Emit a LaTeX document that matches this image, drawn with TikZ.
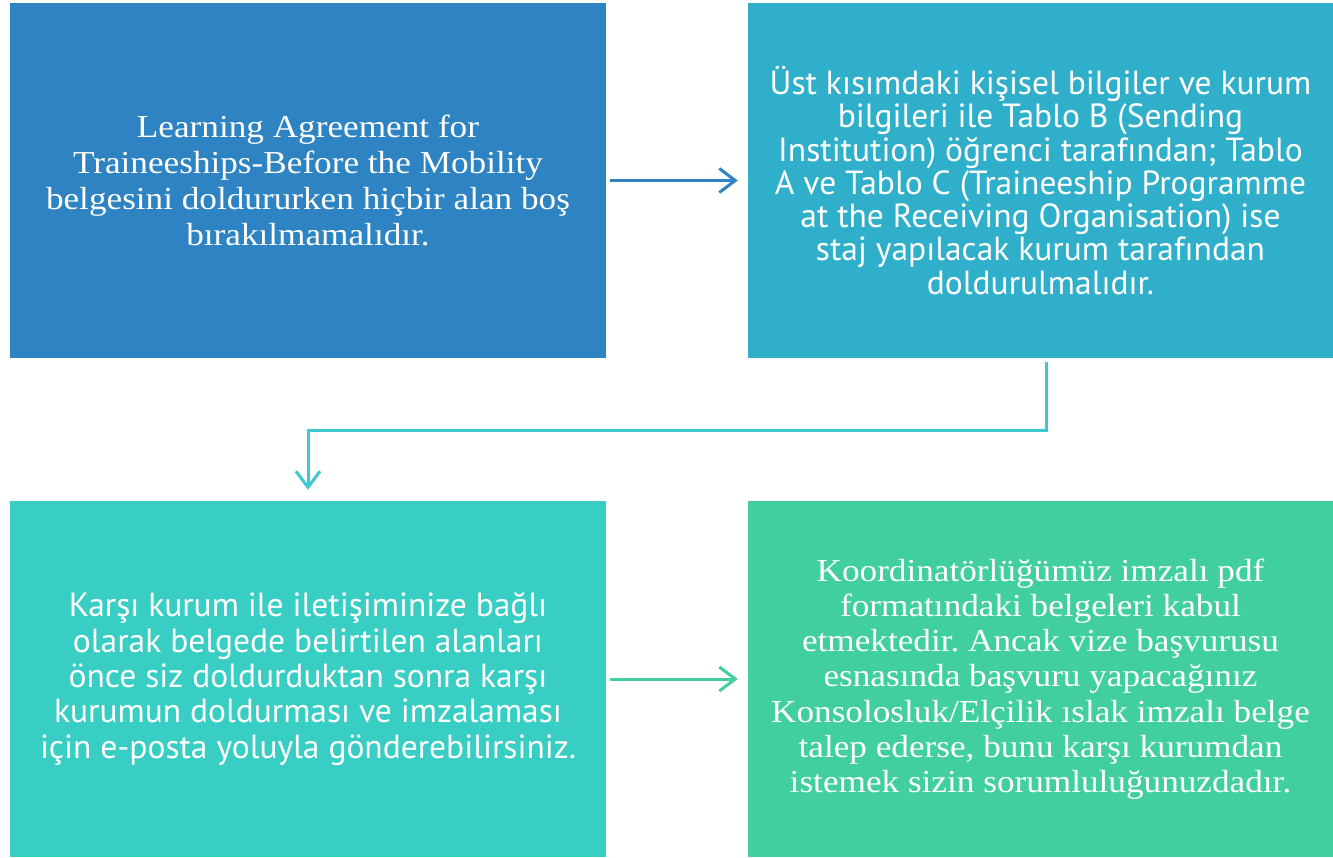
\documentclass[tikz,border=0pt]{standalone}
\usepackage{fontspec}
\setmainfont{Liberation Serif}
\newfontfamily\boxserif[FakeStretch=1.1]{Liberation Serif}
\newfontfamily\boxsans{PT Sans}
\usetikzlibrary{arrows.meta}
\definecolor{cA}{HTML}{2E83C3}
\definecolor{cB}{HTML}{30AFCB}
\definecolor{cC}{HTML}{38CEC4}
\definecolor{cD}{HTML}{42CFA0}
\definecolor{cL}{HTML}{3CCAD0}
\frenchspacing
\tikzset{
  panel/.style={rectangle, inner sep=0pt, text=white, align=center},
  serifbox/.style={panel, font={\boxserif\fontsize{32}{36}\selectfont}},
  sansbox/.style={panel, font={\boxsans\fontsize{33.5}{33.3}\selectfont}},
  sansboxb/.style={panel, font={\boxsans\fontsize{33.5}{35.3}\selectfont}},
  serifboxb/.style={panel, font={\boxserif\fontsize{32}{35.2}\selectfont}},
  conn/.style={line width=3pt, -{Straight Barb[length=16pt,width=24pt,line width=3pt]}},
}
\begin{document}
\begin{tikzpicture}[x=1pt,y=-1pt]
\useasboundingbox (0,0) rectangle (1333,857);
\fill[white] (0,0) rectangle (1333,857);
\node[serifbox, fill=cA, minimum width=596pt, minimum height=355pt] (b1) at (308,180.5)
  {Learning Agreement for\\Traineeships-Before the Mobility\\belgesini doldururken hiçbir alan boş\\bırakılmamalıdır.};
\node[sansbox, fill=cB, minimum width=585pt, minimum height=355pt] (b2) at (1040.5,180.5)
  {Üst kısımdaki kişisel bilgiler ve kurum\\bilgileri ile Tablo B (Sending\\Institution) öğrenci tarafından; Tablo\\A ve Tablo C (Traineeship Programme\\at the Receiving Organisation) ise\\staj yapılacak kurum tarafından\\doldurulmalıdır.};
\node[sansboxb, fill=cC, minimum width=596pt, minimum height=356pt] (b3) at (308,679)
  {Karşı kurum ile iletişiminize bağlı\\olarak belgede belirtilen alanları\\önce siz doldurduktan sonra karşı\\kurumun doldurması ve imzalaması\\için e-posta yoluyla gönderebilirsiniz.};
\node[serifboxb, fill=cD, minimum width=585pt, minimum height=356pt] (b4) at (1040.5,679)
  {Koordinatörlüğümüz imzalı pdf\\formatındaki belgeleri kabul\\etmektedir. Ancak vize başvurusu\\esnasında başvuru yapacağınız\\Konsolosluk/Elçilik ıslak imzalı belge\\talep ederse, bunu karşı kurumdan\\istemek sizin sorumluluğunuzdadır.};
\coordinate (s2) at ([xshift=5.5pt,yshift=-4pt]b2.south);
\coordinate (e3) at ([yshift=11pt]b3.north);
\coordinate (turn) at (1046,430);
\draw[conn, draw=cA] ([xshift=4pt]b1.east) -- ([xshift=-10pt]b2.west);
\draw[conn, draw=cL] (s2) -- (turn) -| (e3);
\draw[conn, draw=cD] ([xshift=4pt]b3.east) -- ([xshift=-10pt]b4.west);
\end{tikzpicture}
\end{document}
